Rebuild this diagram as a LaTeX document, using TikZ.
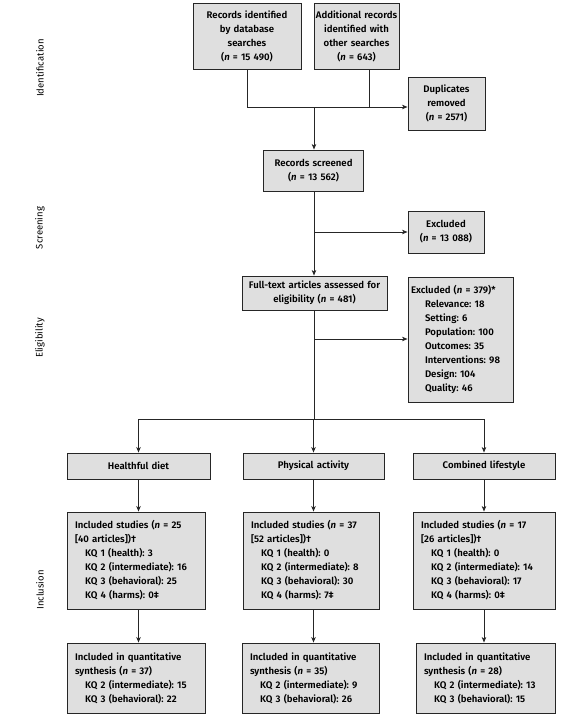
\documentclass[tikz,border=0pt]{standalone}
\usepackage{fontspec}
\setmainfont{Fira Sans}[UprightFont={* SemiBold}, ItalicFont={* SemiBold Italic}, BoldFont={* Bold}]
\newfontfamily\sidefont{Fira Sans}
\usetikzlibrary{arrows.meta}
\newcommand\ind{\hspace*{10pt}}
\newcommand\indx{\hspace*{14pt}}
\frenchspacing
\begin{document}
\begin{tikzpicture}[x=1pt,y=-1pt,
  bx/.style={draw=black!85, fill=gray!25, line width=0.9pt, inner ysep=0pt, font=\fontsize{9.6}{14}\selectfont},
  cbx/.style={bx, align=center, inner xsep=3pt},
  lbx/.style={bx, align=left, inner xsep=8pt},
  ln/.style={draw=black!85, line width=0.9pt},
  arr/.style={ln, -{Stealth[length=5.5pt,width=4.5pt,inset=1.5pt]}},
  side/.style={rotate=90, font=\sidefont\fontsize{9.5}{11}\selectfont}]
\useasboundingbox (0,0) rectangle (577,718);

% side labels
\node[side] (sid) at (40,68) {Identification};
\node[side] (ssc) at (40,228) {Screening};
\node[side] (sel) at (40,338) {Eligibility};
\node[side] (sin) at (40,590) {Inclusion};

% top boxes
\node[cbx, minimum width=108pt, minimum height=66pt, text width=102pt] (b1) at (247,36)
  {Records identified\\ by database\\ searches\\ (\textit{n} = 15~490)};
\node[cbx, inner xsep=0.5pt, minimum width=85pt, minimum height=66pt, text width=84pt] (b2) at (356.5,36)
  {Additional records\\ identified with\\ other searches\\ (\textit{n} = 643)};
\node[cbx, minimum width=77pt, minimum height=53pt, text width=71pt] (dup) at (446.5,103.5)
  {Duplicates\\ removed\\ (\textit{n} = 2571)};
\node[cbx, minimum width=100pt, minimum height=41pt, text width=94pt] (scr) at (313.5,170.5)
  {Records screened\\ (\textit{n} = 13~562)};
\node[cbx, minimum width=76pt, minimum height=42pt, text width=70pt] (ex1) at (446,232)
  {Excluded\\ (\textit{n} = 13~088)};
\node[cbx, minimum width=145pt, minimum height=34pt, text width=139pt] (ft) at (314.5,293)
  {Full-text articles assessed for\\ eligibility (\textit{n} = 481)};
\node[bx, align=left, inner xsep=3pt, minimum width=105pt, minimum height=125pt, text width=99pt] (ex2) at (460.5,339.5)
  {Excluded (\textit{n} = 379)*\\ \indx Relevance: 18\\ \indx Setting: 6\\ \indx Population: 100\\ \indx Outcomes: 35\\ \indx Interventions: 98\\ \indx Design: 104\\ \indx Quality: 46};

% headings
\node[cbx, minimum width=143pt, minimum height=26pt, text width=137pt] (h1) at (138.5,466) {Healthful diet};
\node[cbx, minimum width=141pt, minimum height=26pt, text width=135pt] (h2) at (313.5,466) {Physical activity};
\node[cbx, minimum width=142pt, minimum height=26pt, text width=136pt] (h3) at (484,466) {Combined lifestyle};

% included studies
\node[lbx, minimum width=138pt, minimum height=97pt, text width=122pt] (i1) at (136,560.5)
  {Included studies (\textit{n} = 25\\{}[40 articles])\textdagger\\ \ind KQ 1 (health): 3\\ \ind KQ 2 (intermediate): 16\\ \ind KQ 3 (behavioral): 25\\ \ind KQ 4 (harms): 0\textdaggerdbl};
\node[lbx, minimum width=136pt, minimum height=97pt, text width=120pt] (i2) at (311,560.5)
  {Included studies (\textit{n} = 37\\{}[52 articles])\textdagger\\ \ind KQ 1 (health): 0\\ \ind KQ 2 (intermediate): 8\\ \ind KQ 3 (behavioral): 30\\ \ind KQ 4 (harms): 7\textdaggerdbl};
\node[lbx, minimum width=142pt, minimum height=97pt, text width=126pt] (i3) at (484,560.5)
  {Included studies (\textit{n} = 17\\{}[26 articles])\textdagger\\ \ind KQ 1 (health): 0\\ \ind KQ 2 (intermediate): 14\\ \ind KQ 3 (behavioral): 17\\ \ind KQ 4 (harms): 0\textdaggerdbl};

% quantitative synthesis
\node[lbx, minimum width=138pt, minimum height=70pt, text width=122pt] (q1) at (136,678)
  {Included in quantitative\\ synthesis (\textit{n} = 37)\\ \ind KQ 2 (intermediate): 15\\ \ind KQ 3 (behavioral): 22};
\node[lbx, minimum width=137pt, minimum height=70pt, text width=121pt] (q2) at (310.5,678)
  {Included in quantitative\\ synthesis (\textit{n} = 35)\\ \ind KQ 2 (intermediate): 9\\ \ind KQ 3 (behavioral): 26};
\node[lbx, minimum width=139pt, minimum height=70pt, text width=123pt] (q3) at (485.5,678)
  {Included in quantitative\\ synthesis (\textit{n} = 28)\\ \ind KQ 2 (intermediate): 13\\ \ind KQ 3 (behavioral): 15};

% connectors
\coordinate (c1) at (247,107);
\coordinate (c2) at (369,107);
\coordinate (c3) at (314,107);
\draw[ln] (b1.south) -- (c1);
\draw[ln] (b2.south -| c2) -- (c2);
\draw[arr] (c1) -- (c1 -| dup.west);
\draw[arr] (c3) -- (c3 |- scr.north);

\draw[arr] (c3 |- scr.south) -- (c3 |- ft.north);
\coordinate (c4) at (314,232);
\draw[arr] (c4) -- (c4 -| ex1.west);

\coordinate (c5) at (314,339);
\coordinate (c6) at (314,419);
\draw[ln] (c3 |- ft.south) -- (c6);
\draw[arr] (c5) -- (c5 -| ex2.west);

\draw[ln] (h1.north |- c6) -- (h3.north |- c6);
\draw[arr] (h1.north |- c6) -- (h1.north);
\draw[arr] (h2.north |- c6) -- (h2.north);
\draw[arr] (h3.north |- c6) -- (h3.north);

\draw[arr] (h1.south) -- (h1.south |- i1.north);
\draw[arr] (h2.south) -- (h2.south |- i2.north);
\draw[arr] (h3.south) -- (h3.south |- i3.north);

\draw[arr] (h1.south |- i1.south) -- (h1.south |- q1.north);
\draw[arr] (h2.south |- i2.south) -- (h2.south |- q2.north);
\draw[arr] (h3.south |- i3.south) -- (h3.south |- q3.north);
\end{tikzpicture}
\end{document}
